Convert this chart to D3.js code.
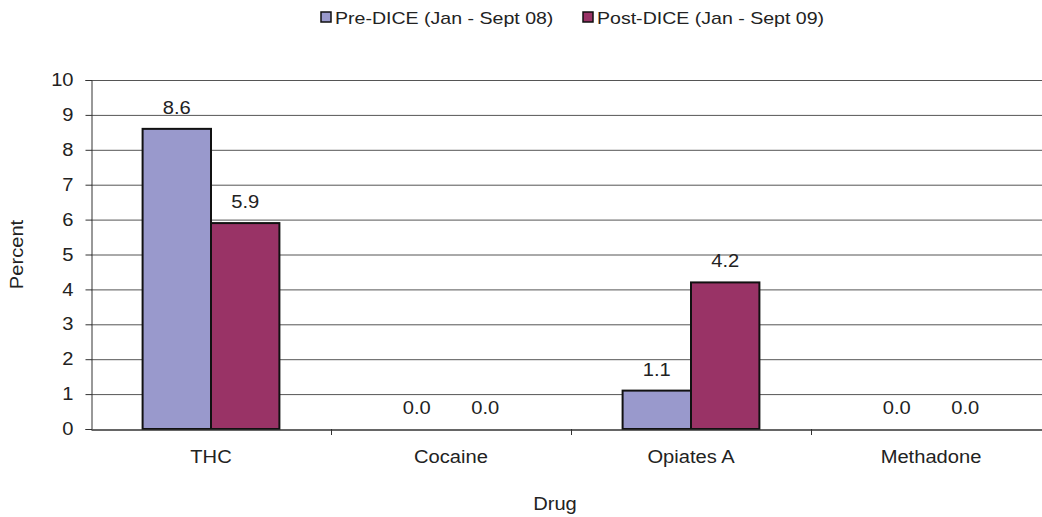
<!DOCTYPE html>
<html>
<head>
<meta charset="utf-8">
<script src="https://cdn.jsdelivr.net/npm/d3@7"></script>
<style>
    body { margin: 0; background: #fff; }
    svg { font-family: "Liberation Sans", Arial, sans-serif; }
</style>
</head>
<body>
<div id="container"></div>
<script>
// chart data
const drugs = ['THC', 'Cocaine', 'Opiates A', 'Methadone'];
const seriesNames = ['Pre-DICE (Jan - Sept 08)', 'Post-DICE (Jan - Sept 09)'];
const preValues = [8.6, 0.0, 1.1, 0.0];
const postValues = [5.9, 0.0, 4.2, 0.0];
const yTicks = [0, 1, 2, 3, 4, 5, 6, 7, 8, 9, 10];
const colors = ['#9999CC', '#993366'];

const width = 1042, height = 517;
// plot runs past the right edge, like the original
const margin = { left: 91, top: 80, right: -9, bottom: 88 };
const fontSize = 17.5;
const stretchK = 1.15; // original text looks wider than plain Arial

// widen text a bit so it matches the source
function stretch(sel, k) {
    sel.each(function () {
        const w = this.getComputedTextLength();
        d3.select(this).attr('textLength', w * k).attr('lengthAdjust', 'spacingAndGlyphs');
    });
}

const svg = d3.select('#container').append('svg')
    .attr('width', width)
    .attr('height', height);

const x = d3.scaleBand()
    .domain(drugs)
    .range([margin.left, width - margin.right])
    .paddingInner(0)
    .paddingOuter(0);

const groupPad = 0.215;
const x1 = d3.scaleBand()
    .domain([0, 1])
    .range([x.bandwidth() * groupPad, x.bandwidth() * (1 - groupPad)]);

const y = d3.scaleLinear()
    .domain([0, 10])
    .range([height - margin.bottom, margin.top]);

// gridlines
svg.append('g')
    .selectAll('line')
    .data(yTicks.slice(1))
    .join('line')
    .attr('x1', margin.left)
    .attr('x2', width)
    .attr('y1', d => y(d) + 0.5)
    .attr('y2', d => y(d) + 0.5)
    .attr('stroke', '#555')
    .attr('stroke-width', 1);

// bars
const rows = drugs.map((d, i) => ({ drug: d, vals: [preValues[i], postValues[i]] }));

const groups = svg.append('g')
    .selectAll('g')
    .data(rows)
    .join('g')
    .attr('transform', d => `translate(${x(d.drug)},0)`);

groups.selectAll('rect')
    .data(d => d.vals.map((v, k) => ({ v, k })).filter(e => e.v > 0))
    .join('rect')
    .attr('x', d => x1(d.k))
    .attr('y', d => y(d.v))
    .attr('width', x1.bandwidth())
    .attr('height', d => y(0) - y(d.v))
    .attr('fill', d => colors[d.k])
    .attr('stroke', '#111')
    .attr('stroke-width', 2);

groups.selectAll('text')
    .data(d => d.vals.map((v, k) => ({ v, k })))
    .join('text')
    .attr('x', d => x1(d.k) + x1.bandwidth() / 2)
    .attr('y', d => y(d.v) - 15)
    .attr('text-anchor', 'middle')
    .attr('font-size', fontSize)
    .attr('fill', '#222')
    .text(d => d.v.toFixed(1))
    .call(stretch, stretchK);

// y axis
const yAxis = svg.append('g')
    .attr('transform', `translate(${margin.left + 0.5},0)`)
    .call(d3.axisLeft(y).tickValues(yTicks).tickSize(6).tickPadding(12).tickFormat(d3.format('d')));
yAxis.select('.domain').attr('stroke', '#333');
yAxis.selectAll('.tick line').attr('stroke', '#333');
yAxis.selectAll('.tick text')
    .attr('font-size', fontSize)
    .attr('fill', '#222')
    .attr('font-family', '"Liberation Sans", Arial, sans-serif')
    .call(stretch, stretchK);

// x axis
const xAxis = svg.append('g')
    .attr('transform', `translate(0,${y(0) + 0.5})`)
    .call(d3.axisBottom(x).tickSize(0).tickPadding(21));
xAxis.select('.domain').attr('stroke', '#333').attr('stroke-width', 1.5);
xAxis.selectAll('.tick text')
    .attr('font-size', fontSize)
    .attr('fill', '#222')
    .attr('font-family', '"Liberation Sans", Arial, sans-serif')
    .call(stretch, stretchK);

// category separator ticks
svg.append('g')
    .selectAll('line')
    .data(drugs.slice(1))
    .join('line')
    .attr('x1', d => x(d) + 0.5)
    .attr('x2', d => x(d) + 0.5)
    .attr('y1', y(0))
    .attr('y2', y(0) + 6)
    .attr('stroke', '#333');

// axis titles
svg.append('text')
    .attr('transform', `translate(23,${(y(0) + y(10)) / 2}) rotate(-90)`)
    .attr('text-anchor', 'middle')
    .attr('font-size', fontSize)
    .attr('fill', '#222')
    .text('Percent')
    .call(stretch, stretchK);

svg.append('text')
    .attr('x', 555)
    .attr('y', 510)
    .attr('text-anchor', 'middle')
    .attr('font-size', fontSize)
    .attr('fill', '#222')
    .text('Drug')
    .call(stretch, stretchK);

// legend
const legendX = [321, 583];
const legend = svg.append('g')
    .selectAll('g')
    .data(seriesNames)
    .join('g')
    .attr('transform', (d, i) => `translate(${legendX[i]},12)`);

legend.append('rect')
    .attr('width', 10)
    .attr('height', 10)
    .attr('fill', (d, i) => colors[i])
    .attr('stroke', '#111')
    .attr('stroke-width', 1.5);

legend.append('text')
    .attr('x', 14)
    .attr('y', 11.5)
    .attr('font-size', 17)
    .attr('fill', '#222')
    .text(d => d)
    .call(stretch, stretchK);
</script>
</body>
</html>
